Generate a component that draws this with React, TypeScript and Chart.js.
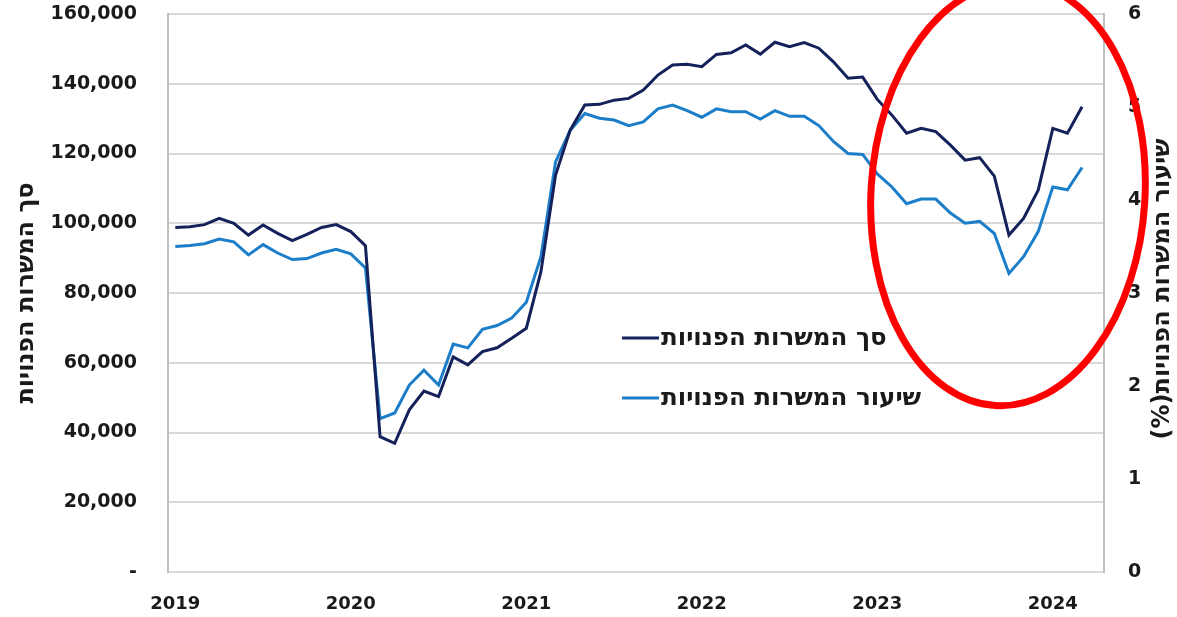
import React, { useEffect, useRef } from 'react';
import { Chart, registerables } from 'chart.js';

Chart.register(...registerables);

// ---- data ----
const years = ['2019', '2020', '2021', '2022', '2023', '2024'];
const monthsPerYear = 12;
const totalSlots = 64; // axis spans Jan 2019 .. Apr 2024

// total vacant jobs (left axis), monthly from Jan 2019
const vacancies = [
  98800, 99000, 99600, 101400, 100000, 96600, 99500, 97100, 95000, 96800, 98800, 99600,
  97600, 93600, 38800, 36900, 46500, 51900, 50300, 61700, 59400, 63200, 64300, 67000,
  69900, 86100, 113800, 126700, 133900, 134100, 135300, 135800, 138200, 142500, 145400, 145600,
  144900, 148400, 148900, 151100, 148500, 151900, 150600, 151800, 150200, 146300, 141600, 141900,
  135500, 131000, 125800, 127200, 126300, 122400, 118100, 118800, 113500, 96600, 101400, 109500,
  127200, 125800, 133400,
];

// job vacancy rate % (right axis)
const vacancyRate = [
  3.50, 3.51, 3.53, 3.58, 3.55, 3.41, 3.52, 3.43, 3.36, 3.37, 3.43, 3.47,
  3.42, 3.27, 1.65, 1.71, 2.01, 2.17, 2.01, 2.45, 2.41, 2.61, 2.65, 2.73,
  2.90, 3.39, 4.41, 4.75, 4.93, 4.88, 4.86, 4.80, 4.84, 4.98, 5.02, 4.96,
  4.89, 4.98, 4.95, 4.95, 4.87, 4.96, 4.90, 4.90, 4.80, 4.63, 4.50, 4.49,
  4.28, 4.14, 3.96, 4.01, 4.01, 3.86, 3.75, 3.77, 3.64, 3.21, 3.39, 3.66,
  4.14, 4.11, 4.35,
];

const leftTickValues = [0, 20000, 40000, 60000, 80000, 100000, 120000, 140000, 160000];
const rightTickValues = [0, 1, 2, 3, 4, 5, 6];
const seriesNames = ['סך המשרות הפנויות', 'שיעור המשרות הפנויות'];
const leftTitle = 'סך המשרות הפנויות';
const rightTitle = 'שיעור המשרות הפנויות(%)';

const DARK = '#14215A';
const LIGHT = '#1C7DC8';
const FONT = '"DejaVu Sans", sans-serif';

const overlayPlugin = {
  id: 'overlay',
  afterDraw(chart: any) {
    const { ctx, chartArea } = chart;
    ctx.save();
    // legend
    const legendItems = [
      { color: DARK, text: seriesNames[0], y: 338 },
      { color: LIGHT, text: seriesNames[1], y: 398 },
    ];
    legendItems.forEach((it) => {
      ctx.strokeStyle = it.color;
      ctx.lineWidth = 3;
      ctx.beginPath();
      ctx.moveTo(622, it.y);
      ctx.lineTo(659, it.y);
      ctx.stroke();
      ctx.fillStyle = '#1a1a1a';
      ctx.font = `bold 24.5px ${FONT}`;
      ctx.textAlign = 'left';
      ctx.textBaseline = 'middle';
      ctx.fillText(it.text, 661, it.y + 1);
    });

    // axis titles (both rotated counter-clockwise)
    ctx.font = `bold 24px ${FONT}`;
    ctx.fillStyle = '#1a1a1a';
    ctx.textAlign = 'center';
    ctx.textBaseline = 'middle';
    const midY = (chartArea.top + chartArea.bottom) / 2;
    ctx.save();
    ctx.translate(27, midY);
    ctx.rotate(-Math.PI / 2);
    ctx.fillText(leftTitle, 0, 0);
    ctx.restore();
    ctx.save();
    ctx.translate(1163, midY - 4);
    ctx.rotate(-Math.PI / 2);
    (ctx as any).direction = 'rtl';
    ctx.fillText(rightTitle, 0, 0);
    ctx.restore();

    // red annotation ellipse
    ctx.strokeStyle = '#FF0000';
    ctx.lineWidth = 7;
    ctx.beginPath();
    ctx.ellipse(1008, 194, 137, 212, 0.06, 0, Math.PI * 2);
    ctx.stroke();
    ctx.restore();
  },
};

const noPad = (scale: any) => {
  scale.paddingTop = 0;
  scale.paddingBottom = 0;
  scale.paddingLeft = 0;
  scale.paddingRight = 0;
};

export default function App() {
  const canvasRef = useRef<HTMLCanvasElement | null>(null);

  useEffect(() => {
    document.body.style.margin = '0';
    const canvas = canvasRef.current;
    if (!canvas) return;
    const chart = new Chart(canvas, {
      type: 'line',
      data: {
        datasets: [
          {
            label: seriesNames[0],
            data: vacancies.map((v, i) => ({ x: i, y: v })),
            borderColor: DARK,
            backgroundColor: DARK,
            borderWidth: 3,
            pointRadius: 0,
            tension: 0,
            yAxisID: 'yL',
          },
          {
            label: seriesNames[1],
            data: vacancyRate.map((v, i) => ({ x: i, y: v })),
            borderColor: LIGHT,
            backgroundColor: LIGHT,
            borderWidth: 3,
            pointRadius: 0,
            tension: 0,
            yAxisID: 'yR',
          },
        ],
      },
      options: {
        responsive: false,
        animation: false,
        layout: { padding: { top: 14, left: 0, right: 0, bottom: 0 } },
        plugins: { legend: { display: false }, tooltip: { enabled: false } },
        scales: {
          x: {
            type: 'linear',
            min: -0.5,
            max: totalSlots - 0.5,
            grid: { display: false, drawTicks: false },
            border: { display: true, color: '#D9D9D9', width: 2 },
            afterBuildTicks: (scale: any) => {
              scale.ticks = years.map((_, k) => ({ value: k * monthsPerYear }));
            },
            afterFit: (scale: any) => {
              scale.height = 45;
              noPad(scale);
            },
            ticks: {
              autoSkip: false,
              maxRotation: 0,
              padding: 22,
              color: '#1a1a1a',
              font: { family: FONT, size: 18, weight: 'bold' },
              callback: (v: any) => years[Math.round(v / monthsPerYear)] ?? '',
            },
          },
          yL: {
            type: 'linear',
            position: 'left',
            min: 0,
            max: 160000,
            afterBuildTicks: (scale: any) => {
              scale.ticks = leftTickValues.map((value) => ({ value }));
            },
            afterFit: (scale: any) => {
              scale.width = 168;
              noPad(scale);
            },
            grid: { color: '#D9D9D9', lineWidth: 2, drawTicks: false },
            border: { display: true, color: '#BFBFBF', width: 2 },
            ticks: {
              padding: 31,
              color: '#1a1a1a',
              font: { family: FONT, size: 19, weight: 'bold' },
              callback: (v: any) => (v === 0 ? '-' : Number(v).toLocaleString('en-US')),
            },
          },
          yR: {
            type: 'linear',
            position: 'right',
            min: 0,
            max: 6,
            afterBuildTicks: (scale: any) => {
              scale.ticks = rightTickValues.map((value) => ({ value }));
            },
            afterFit: (scale: any) => {
              scale.width = 73;
              noPad(scale);
            },
            grid: { display: false, drawTicks: false },
            border: { display: true, color: '#BFBFBF', width: 2 },
            ticks: {
              padding: 24,
              color: '#1a1a1a',
              font: { family: FONT, size: 19, weight: 'bold' },
            },
          },
        },
      },
      plugins: [overlayPlugin],
    } as any);
    return () => chart.destroy();
  }, []);

  return (
    <div style={{ width: 1177, height: 617, position: 'relative', background: '#fff' }}>
      <canvas ref={canvasRef} width={1177} height={617} />
    </div>
  );
}
